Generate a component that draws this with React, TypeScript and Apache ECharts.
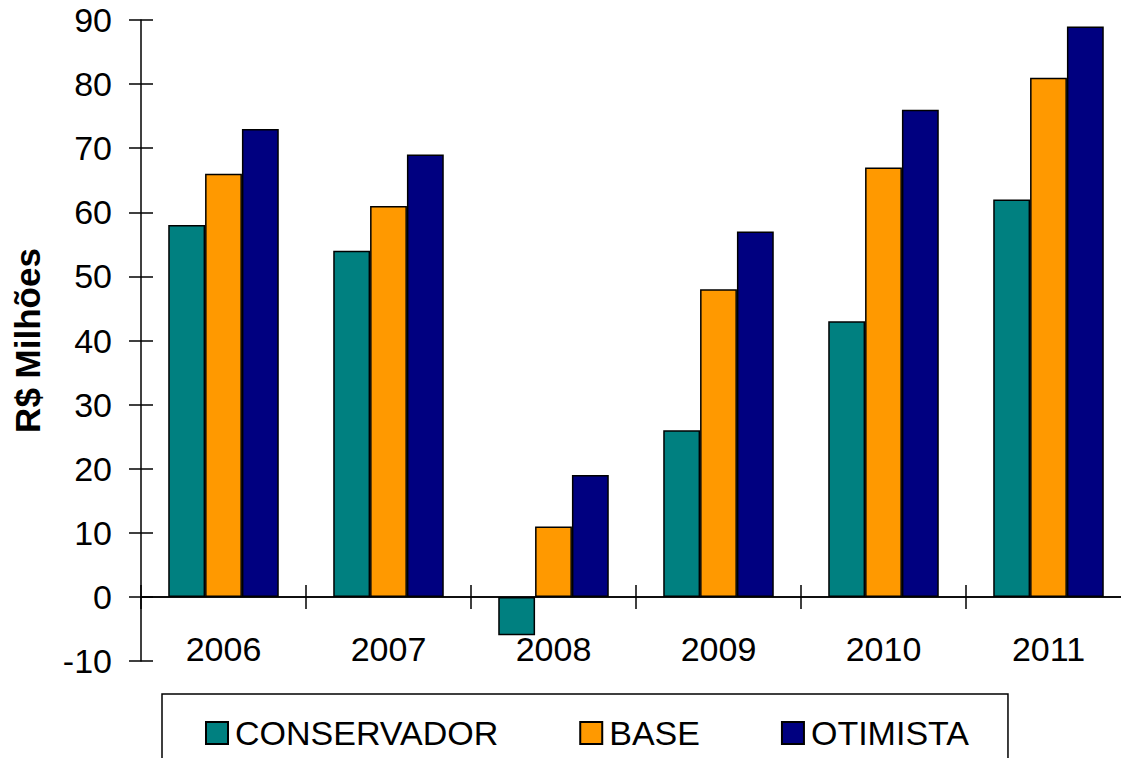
import React, { useEffect, useRef } from "react";
import * as echarts from "echarts";

const categories = ["2006", "2007", "2008", "2009", "2010", "2011"];
const conservador = [58, 54, -6, 26, 43, 62];
const base = [66, 61, 11, 48, 67, 81];
const otimista = [73, 69, 19, 57, 76, 89];
const seriesNames = ["CONSERVADOR", "BASE", "OTIMISTA"];
const colors = ["#008080", "#FF9900", "#000080"];
const yMin = -10;
const yMax = 90;
const yInterval = 10;
const yTitle = "R$ Milhões";

const FONT = "'Liberation Sans', Arial, Helvetica, sans-serif";

export default function App() {
  const ref = useRef<HTMLDivElement>(null);
  useEffect(() => {
    document.body.style.margin = "0";
    document.body.style.overflow = "hidden";
    const chart = echarts.init(ref.current!, null, { renderer: "svg" });
    const axisLine = { show: true, onZero: true, onZeroAxisIndex: 0, lineStyle: { color: "#000", width: 1.5 } };
    const datasets = [conservador, base, otimista];
    chart.setOption({
      animation: false,
      backgroundColor: "#fff",
      textStyle: { fontFamily: FONT },
      grid: { left: 141, top: 20, right: -10, bottom: 97, containLabel: false, outerBoundsMode: "none" },
      legend: {
        left: 162,
        top: 694,
        orient: "horizontal",
        padding: [22, 39, 40, 43],
        borderColor: "#000",
        borderWidth: 1.5,
        itemWidth: 22,
        itemHeight: 22,
        itemGap: 81,
        icon: "rect",
        textStyle: { fontFamily: FONT, fontSize: 34, color: "#000", lineHeight: 24, padding: [0, 0, 0, 2] },
        data: seriesNames,
      },
      xAxis: [
        {
          type: "category",
          data: categories,
          boundaryGap: true,
          axisLine,
          axisTick: { show: true, inside: false, length: 12, interval: 0, lineStyle: { color: "#000", width: 1.5 } },
          axisLabel: { show: true, fontFamily: FONT, fontSize: 34, color: "#000", margin: -29, interval: 0 },
          splitLine: { show: false },
        },
        {
          type: "category",
          data: categories,
          boundaryGap: true,
          position: "bottom",
          axisLine,
          axisTick: { show: true, inside: true, length: 12, interval: 0, lineStyle: { color: "#000", width: 1.5 } },
          axisLabel: { show: false },
          splitLine: { show: false },
        },
      ],
      yAxis: [
        {
          type: "value",
          position: "left",
          min: yMin,
          max: yMax,
          interval: yInterval,
          name: yTitle,
          nameLocation: "middle",
          nameGap: 96,
          nameRotate: 90,
          nameTextStyle: { fontFamily: FONT, fontSize: 35, fontWeight: "bold", color: "#000" },
          axisLine: { show: true, lineStyle: { color: "#000", width: 1.5 } },
          axisTick: { show: true, inside: false, length: 12, lineStyle: { color: "#000", width: 1.5 } },
          axisLabel: { fontFamily: FONT, fontSize: 34, color: "#000", margin: 29 },
          splitLine: { show: false },
        },
        {
          type: "value",
          position: "left",
          min: yMin,
          max: yMax,
          interval: yInterval,
          axisLine: { show: false },
          axisTick: { show: true, inside: true, length: 12, lineStyle: { color: "#000", width: 1.5 } },
          axisLabel: { show: false },
          splitLine: { show: false },
        },
      ],
      series: seriesNames.map((name, i) => ({
        name,
        type: "bar",
        xAxisIndex: 0,
        yAxisIndex: 0,
        data: datasets[i],
        barGap: "0%",
        barCategoryGap: "33%",
        itemStyle: { color: colors[i], borderColor: "#000", borderWidth: 1.5 },
      })),
    });
    return () => chart.dispose();
  }, []);
  return <div ref={ref} style={{ width: 1121, height: 758 }} />;
}
